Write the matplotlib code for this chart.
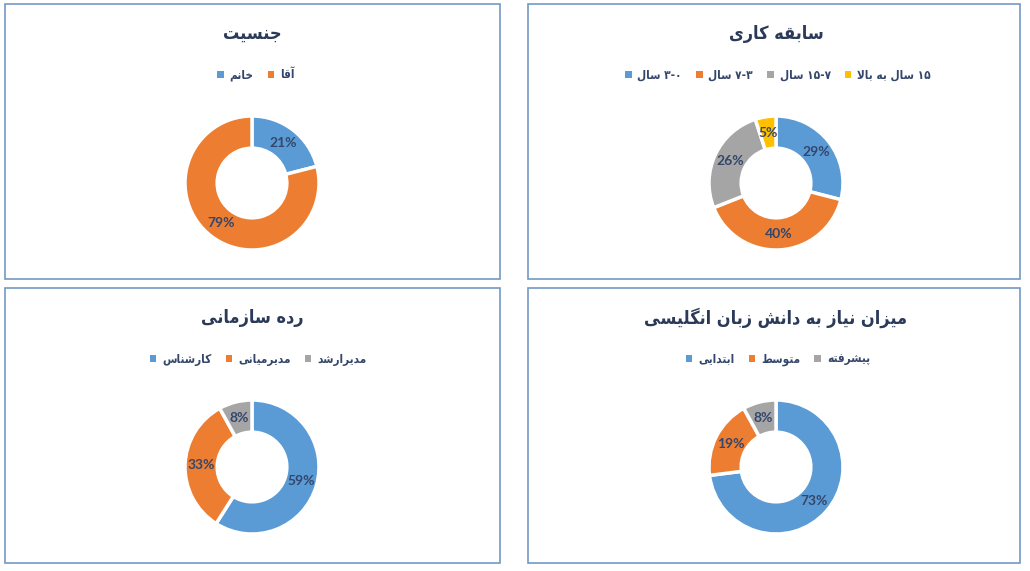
import matplotlib
matplotlib.use('Agg')
import matplotlib.pyplot as plt
from matplotlib.patches import Rectangle, Patch
from matplotlib.font_manager import FontProperties

W, H = 1030, 571

# ---------------- data ----------------
titles = ['جنسیت', 'سابقه کاری', 'رده سازمانی', 'میزان نیاز به دانش زبان انگلیسی']
gender_labels = ['خانم', 'آقا']
gender_values = [21, 79]
experience_labels = ['۳-۰ سال', '۷-۳ سال', '۱۵-۷ سال', '۱۵ سال به بالا']
experience_values = [29, 40, 26, 5]
level_labels = ['کارشناس', 'مدیرمیانی', 'مدیرارشد']
level_values = [59, 33, 8]
english_labels = ['ابتدایی', 'متوسط', 'پیشرفته']
english_values = [73, 19, 8]

palette = ['#5B9BD5', '#ED7D31', '#A5A5A5', '#FFC000']

# ---------------- minimal Persian shaping (presentation forms + visual order) ----------------
_DUAL = {
    'ب': '\uFE8F\uFE90\uFE91\uFE92', 'پ': '\uFB56\uFB57\uFB58\uFB59', 'ت': '\uFE95\uFE96\uFE97\uFE98',
    'ج': '\uFE9D\uFE9E\uFE9F\uFEA0', 'خ': '\uFEA5\uFEA6\uFEA7\uFEA8', 'س': '\uFEB1\uFEB2\uFEB3\uFEB4',
    'ش': '\uFEB5\uFEB6\uFEB7\uFEB8', 'ط': '\uFEC1\uFEC2\uFEC3\uFEC4', 'ف': '\uFED1\uFED2\uFED3\uFED4',
    'ق': '\uFED5\uFED6\uFED7\uFED8', 'ک': '\uFB8E\uFB8F\uFB90\uFB91', 'گ': '\uFB92\uFB93\uFB94\uFB95',
    'ل': '\uFEDD\uFEDE\uFEDF\uFEE0', 'م': '\uFEE1\uFEE2\uFEE3\uFEE4', 'ن': '\uFEE5\uFEE6\uFEE7\uFEE8',
    'ه': '\uFEE9\uFEEA\uFEEB\uFEEC', 'ی': '\uFBFC\uFBFD\uFBFE\uFBFF',
}
_RIGHT = {'ا': '\uFE8D\uFE8E', 'آ': '\uFE81\uFE82', 'د': '\uFEA9\uFEAA', 'ر': '\uFEAD\uFEAE',
          'ز': '\uFEAF\uFEB0', 'و': '\uFEED\uFEEE'}
_LIG = {'ا': ('\uFEFB', '\uFEFC'), 'آ': ('\uFEF5', '\uFEF6')}


def _shape_word(w):
    out = []
    i, n = 0, len(w)
    prev = False
    while i < n:
        c = w[i]
        nxt = w[i + 1] if i + 1 < n else ''
        if c == 'ل' and nxt in _LIG:
            out.append(_LIG[nxt][1] if prev else _LIG[nxt][0])
            prev = False
            i += 2
            continue
        if c in _DUAL:
            nj = (nxt in _DUAL) or (nxt in _RIGHT)
            f = _DUAL[c]
            idx = (3 if nj else 1) if prev else (2 if nj else 0)
            out.append(f[idx])
            prev = nj
        elif c in _RIGHT:
            out.append(_RIGHT[c][1] if prev else _RIGHT[c][0])
            prev = False
        else:
            out.append(c)
            prev = False
        i += 1
    return ''.join(reversed(out))


def fa(text):
    toks = text.split(' ')
    vis = []
    for t in reversed(toks):
        if any(ch in _DUAL or ch in _RIGHT for ch in t):
            vis.append(_shape_word(t))
        else:
            vis.append(t)
    return ' '.join(vis)


# ---------------- figure ----------------
fig = plt.figure(figsize=(W / 100, H / 100), dpi=100)
fig.patch.set_facecolor('white')

title_color = '#2A3A58'
label_color = '#34466B'
border_color = '#7497C4'

panels = [
    # (x0, y0, x1, y1, cx, cy, legend_cx, title, labels, values)
    (5, 4, 500, 279, 252, 183, 256, titles[0], gender_labels, gender_values),
    (528, 4, 1020, 279, 776, 183, 778, titles[1], experience_labels, experience_values),
    (5, 288, 500, 563, 252, 467, 258, titles[2], level_labels, level_values),
    (528, 288, 1020, 563, 776, 467, 778, titles[3], english_labels, english_values),
]

title_fp = FontProperties(family=['DejaVu Sans'], weight='bold', stretch='condensed', size=13)
legend_fp = FontProperties(family=['DejaVu Sans'], weight='bold', stretch='condensed', size=8.5)
pct_fp = FontProperties(family=['Lato', 'DejaVu Sans'], weight='bold', size=10)

R = 67  # outer radius in px
for (x0, y0, x1, y1, cx, cy, lcx, title, labels, values) in panels:
    fig.add_artist(Rectangle((x0 / W, 1 - y1 / H), (x1 - x0) / W, (y1 - y0) / H,
                             transform=fig.transFigure, fill=False,
                             edgecolor=border_color, linewidth=1.2))
    fig.text(cx / W, 1 - (y0 + 30) / H, fa(title), ha='center', va='center',
             fontproperties=title_fp, color=title_color)

    ax = fig.add_axes([(cx - R) / W, 1 - (cy + R) / H, 2 * R / W, 2 * R / H])
    cols = palette[:len(values)]
    wedges, texts, autotexts = ax.pie(
        values, colors=cols, startangle=90, counterclock=False, radius=1.0,
        autopct=lambda p: f'{p:.0f}%', pctdistance=0.76,
        wedgeprops=dict(width=0.48, edgecolor='white', linewidth=2.5))
    for t in autotexts:
        t.set_fontproperties(pct_fp)
        t.set_color(label_color)
    ax.set_xlim(-1, 1)
    ax.set_ylim(-1, 1)
    ax.set_aspect('equal')
    ax.axis('off')
    for wdg in wedges:
        wdg.set_clip_on(False)

    handles = [Patch(facecolor=c, edgecolor='none') for c in cols]
    fig.legend(handles, [fa(l) for l in labels], loc='center',
               bbox_to_anchor=(lcx / W, 1 - (y0 + 71) / H), ncol=len(labels),
               frameon=False, prop=legend_fp, handlelength=0.55, handleheight=0.55,
               handletextpad=0.5, columnspacing=1.2, labelcolor=label_color)

fig.savefig('out.png', dpi=100, facecolor='white')
